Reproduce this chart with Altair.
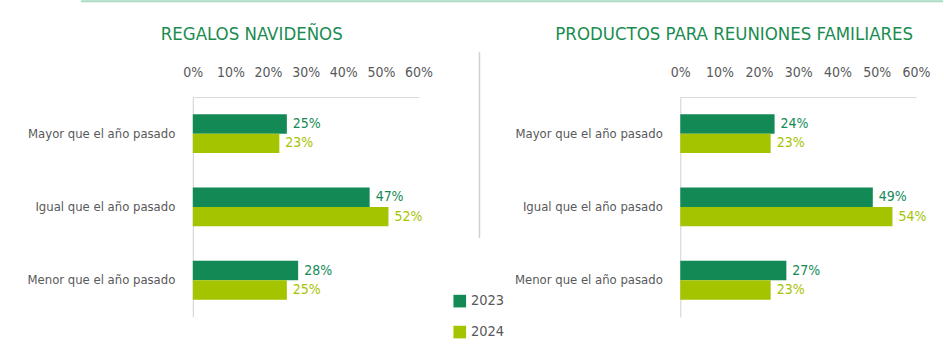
import altair as alt
import pandas as pd

categories = ["Mayor que el año pasado", "Igual que el año pasado", "Menor que el año pasado"]
years = ["2023", "2024"]
regalos_2023 = [25, 47, 28]
regalos_2024 = [23, 52, 25]
reuniones_2023 = [24, 49, 27]
reuniones_2024 = [23, 54, 23]
tick_values = [0, 10, 20, 30, 40, 50, 60]
titles = ["REGALOS NAVIDEÑOS", "PRODUCTOS PARA REUNIONES FAMILIARES"]

FONT = "Liberation Sans Narrow, DejaVu Sans Condensed, sans-serif"
DARK = "#138a56"
LIGHT = "#a5c400"
TITLE_GREEN = "#1a8c50"
GRAY = "#58595b"


def frame(v23, v24):
    rows = []
    for c, a, b in zip(categories, v23, v24):
        rows.append({"cat": c, "year": years[0], "value": a})
        rows.append({"cat": c, "year": years[1], "value": b})
    return pd.DataFrame(rows)


color_scale = alt.Scale(domain=years, range=[DARK, LIGHT])
legend = alt.Legend(
    orient="none", legendX=260, legendY=197, title=None,
    symbolType="square", symbolSize=160, symbolStrokeWidth=0,
    labelFont=FONT, labelFontSize=14.5, labelColor=GRAY, rowPadding=16,
)
one = pd.DataFrame({"a": [0]})

y_axis = alt.Axis(domainColor="#d0d0d0", ticks=False, labelPadding=18,
                  labelFontSize=13, labelColor=GRAY, labelFont=FONT, labelLimit=300)
x_axis = alt.Axis(orient="top", values=tick_values, labelExpr="datum.value + '%'",
                  grid=False, ticks=False, domainColor="#d9d9d9", labelPadding=18,
                  labelFlush=False, labelOverlap=False,
                  labelFontSize=14, labelColor=GRAY, labelFont=FONT)


def panel(df, title, width, title_x, extras):
    base = alt.Chart(df).transform_calculate(label="datum.value + '%'")
    y = alt.Y("cat:N", sort=categories, title=None,
              scale=alt.Scale(paddingInner=0.47, paddingOuter=0.235), axis=y_axis)
    x = alt.X("value:Q", title=None, scale=alt.Scale(domain=[0, 60], nice=False), axis=x_axis)
    yoff = alt.YOffset("year:N", sort=years, scale=alt.Scale(paddingInner=0, paddingOuter=0))
    bars = base.mark_bar().encode(
        y=y, x=x, yOffset=yoff,
        color=alt.Color("year:N", scale=color_scale, legend=legend),
    )
    text = base.mark_text(align="left", dx=6, font=FONT, fontSize=14).encode(
        y=y, x=x, yOffset=yoff,
        text=alt.Text("label:N"),
        color=alt.condition("datum.year == '2023'", alt.value(DARK), alt.value(LIGHT)),
    )
    heading = alt.Chart(one).mark_text(
        font=FONT, fontSize=18.5, color=TITLE_GREEN, align="center", baseline="alphabetic"
    ).encode(x=alt.value(title_x), y=alt.value(-57), text=alt.value(title))
    return alt.layer(bars, text, heading, *extras).properties(width=width, height=220)


anchor = alt.Chart(one).mark_rule(opacity=0).encode(
    x=alt.value(-193), x2=alt.value(-192), y=alt.value(0))
top_rule = alt.Chart(one).mark_rule(color="#a8dcc2", strokeWidth=2).encode(
    x=alt.value(-112), x2=alt.value(751), y=alt.value(-96))
separator = alt.Chart(one).mark_rule(color="#d0d0d0", strokeWidth=1.5).encode(
    x=alt.value(287), y=alt.value(-45), y2=alt.value(141))

left = panel(frame(regalos_2023, regalos_2024), titles[0], 226, 59, [anchor, top_rule, separator])
right = panel(frame(reuniones_2023, reuniones_2024), titles[1], 236, 54, [])

chart = alt.hconcat(left, right, spacing=262, bounds="flush").properties(
    padding={"left": 0, "top": 0, "right": 0, "bottom": 0},
    background="white",
).configure_view(strokeWidth=0)

chart.save("out.html", embed_options={"renderer": "svg", "actions": False})
